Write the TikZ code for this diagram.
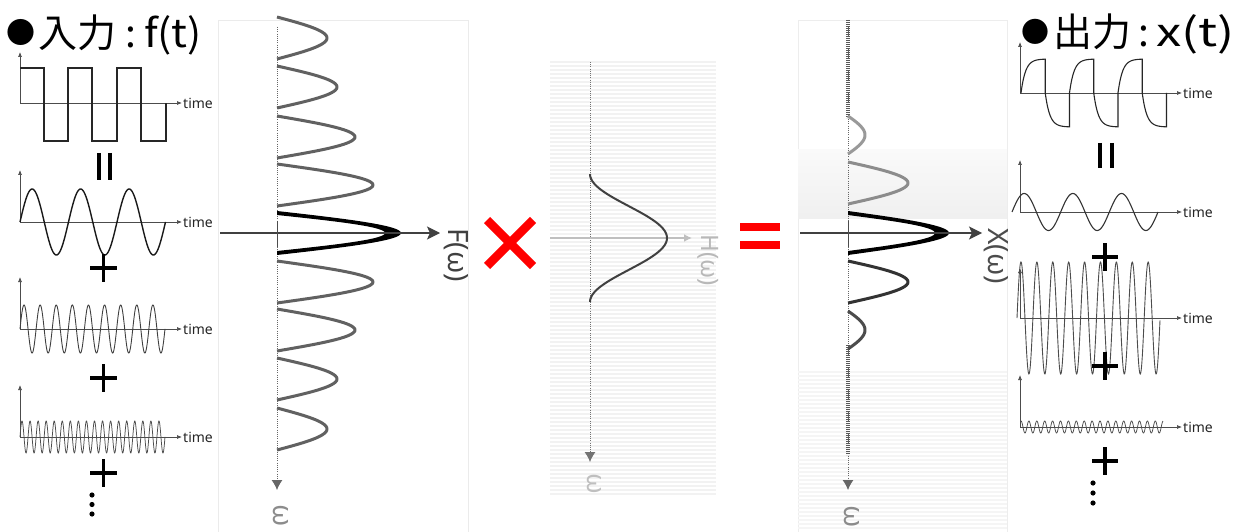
\documentclass[tikz,border=0pt]{standalone}
\usepackage{fontspec}
\usepackage{graphicx}
\setmainfont{Noto Sans}
\newfontfamily\jp{Noto Sans CJK JP}
\usetikzlibrary{arrows.meta}
\begin{document}
\begin{tikzpicture}[x=1pt,y=-1pt,
  ax/.style={black!70,line width=0.7pt,-{Latex[length=5pt,width=4pt]}},
  timelbl/.style={anchor=west,inner sep=1pt,text=black!85,font=\fontsize{14}{14}\selectfont},
  title/.style={anchor=base west,inner sep=0pt,font=\jp\fontsize{39}{39}\selectfont},
  sym/.style={black,line width=3.4pt},
  lobe/.style={black!62,line width=3pt},
  dotax/.style={black!60,line width=0.9pt,dash pattern=on 1pt off 1.2pt,-{Latex[length=10pt,width=11pt]}},
  spec/.style={rotate=-90,inner sep=0pt,font=\fontsize{28}{28}\selectfont},
  redsym/.style={red,line width=8.5pt}]
\useasboundingbox (0,0) rectangle (1240,532);
\fill[white] (0,0) rectangle (1240,532);

% ---------- faint panel backgrounds ----------
\draw[black!8,line width=0.8pt] (218,532) -- (218,20) -- (468,20) -- (468,532);
\foreach \y in {62,66,...,496} \draw[black!5,line width=1.3pt] (550,\y) -- (716,\y);
\draw[black!7,line width=0.8pt] (798,532) -- (798,20) -- (1007,20) -- (1007,532);
\shade[top color=black!2,bottom color=black!6] (798,150) rectangle (1007,218);
\foreach \y in {372,376,...,530} \draw[black!4,line width=1.3pt] (798,\y) -- (1007,\y);

% ---------- titles ----------
\node[title] (tin) at (6,48) {\raisebox{4pt}{\fontsize{29}{29}\selectfont ●}\hspace{3pt}入力\hspace{9pt}:\hspace{8pt}\scalebox{1.08}[1]{f(t)}};
\node[title] (tout) at (1021,47) {\raisebox{4pt}{\fontsize{28}{28}\selectfont ●}\hspace{4pt}出力\hspace{7pt}:\hspace{7pt}\scalebox{1.3}[1]{x(t)}};

% ---------- time axes ----------
\foreach \x/\a/\t/\n in {20/103/52/1,20/222/170/2,20/329/277/3,20/437/385/4,
                          1020/93/42/5,1020/212/160/6,1020/318/268/7,1020/427/375/8}{
  \coordinate (o\n) at (\x,\a);
  \coordinate (h\n) at (\x+162,\a);
  \coordinate (v\n) at (\x,\t);
  \draw[ax] (o\n) -- (h\n);
  \draw[ax] (o\n) -- (v\n);
  \node[timelbl] (tl\n) at (h\n) {time};
}

% ---------- input waves ----------
\draw[black!85,line width=1.2pt] (20,68) -- (44,68) -- (44,141) -- (68,141) -- (68,68) -- (92,68)
  -- (92,141) -- (117,141) -- (117,68) -- (141,68) -- (141,141) -- (166,141) -- (166,103);
\draw[black!90,line width=1.4pt] plot[domain=0:145.5,samples=200,variable=\t] ({20+\t},{222-33*sin(\t/48.5*360)});
\draw[black!75,line width=0.9pt] plot[domain=0:145,samples=400,variable=\t] ({20+\t},{329-24*sin(\t/16.11*360)});
\draw[black!70,line width=0.75pt] plot[domain=0:145,samples=600,variable=\t] ({20+\t},{437-16*sin(\t/8.055*360)});

% ---------- output waves ----------
\foreach \k in {0,...,5}{
  \pgfmathsetmacro\xs{1021+24.25*\k}
  \pgfmathsetmacro\sg{ifthenelse(mod(\k,2)==0,1,-1)}
  \draw[black!85,line width=1.1pt] plot[domain=0:24.25,samples=40,variable=\t] ({\xs+\t},{93-\sg*34*(1-exp(-\t/4.5))}) -- ({\xs+24.25},93);
}
\draw[black!80,line width=1.1pt] plot[domain=0:146,samples=200,variable=\t] ({1012+\t},{212-18.5*sin(\t/48.67*360)});
\draw[black!70,line width=0.9pt] plot[domain=0:143,samples=400,variable=\t] ({1017+\t},{318-56*sin(\t/15.9*360)});
\draw[black!70,line width=0.75pt] plot[domain=0:142,samples=600,variable=\t] ({1021+\t},{427-6*cos(\t/7.9*360)});

% ---------- symbols between input waves ----------
\draw[sym] (99,153) -- (99,180) (110,153) -- (110,180);
\foreach \y in {268,378,473}{\draw[sym] (90,\y) -- (117,\y) (103.5,\y-14) -- (103.5,\y+14);}
\foreach \y in {495,504.5,514}{\fill (92,\y) circle (2.6);}
\draw[sym] (1100,143) -- (1100,168) (1112,143) -- (1112,168);
\foreach \y in {257,366,461}{\draw[sym] (1092,\y) -- (1118,\y) (1105,\y-14) -- (1105,\y+14);}
\foreach \y in {483,493,503}{\fill (1093,\y) circle (2.6);}

% ---------- F(omega) ----------
\draw[dotax] (277,27) -- (277,490);
\foreach \c/\h in {38/50,87/60,137/78,185/96,282/96,330/78,379/60,429/50}{
  \draw[lobe] plot[domain=0:1,samples=40,variable=\t] ({277+\h*sin(180*\t)},{\c-21+42*\t});
}
\fill[black] plot[domain=0:1,samples=50,variable=\t] ({277+124*sin(180*\t)},{211+44*\t})
  -- plot[domain=1:0,samples=50,variable=\t] ({277+108*sin(180*\t)},{215+36*\t}) -- cycle;
\draw[black!75,line width=1.3pt,-{Stealth[length=13pt,width=13pt,inset=3pt]}] (220,233) -- (440,233);
\draw[black!70,line width=1pt] (277,221) -- (277,247);
\node[spec,text=black!75] (Fl) at (456,255) {F(ω)};
\node[spec,text=black!45] (Fw) at (281,516) {ω};

% ---------- multiply ----------
\draw[redsym] (487,220) -- (533,266) (487,266) -- (533,220);

% ---------- H(omega) ----------
\draw[dotax,black!55] (590,62) -- (590,462);
\draw[black!25,line width=1.6pt,-{Latex[length=8pt,width=8pt]}] (550,238) -- (692,238);
\draw[black!75,line width=2pt] plot[domain=-64:64,samples=80,variable=\t] ({590+77*0.5*(1+cos(180*\t/64))},{238+\t});
\node[spec,text=black!28,font=\fontsize{24}{24}\selectfont] (Hl) at (708,260) {H(ω)};
\node[spec,text=black!25,font=\fontsize{26}{26}\selectfont] (Hw) at (594,484) {ω};

% ---------- equals ----------
\draw[red,line width=8pt] (740,226.5) -- (780,226.5) (740,245) -- (780,245);

% ---------- X(omega) ----------
\draw[dotax] (848,20) -- (848,490);
\draw[black!65,line width=3.4pt,dash pattern=on 1.2pt off 0.8pt] (848,20) -- (848,118) (848,345) -- (848,455);
\draw[lobe,black!40] plot[domain=0:1,samples=30,variable=\t] ({848+17*sin(180*\t)},{135-19+38*\t});
\draw[lobe,black!45] plot[domain=0:1,samples=40,variable=\t] ({848+60*sin(180*\t)},{183-21+42*\t});
\draw[lobe,black!80] plot[domain=0:1,samples=40,variable=\t] ({848+60*sin(180*\t)},{282-21+42*\t});
\draw[lobe,black!70] plot[domain=0:1,samples=30,variable=\t] ({848+17*sin(180*\t)},{330-19+38*\t});
\fill[black] plot[domain=0:1,samples=50,variable=\t] ({848+101*sin(180*\t)},{211+44*\t})
  -- plot[domain=1:0,samples=50,variable=\t] ({848+87*sin(180*\t)},{215+36*\t}) -- cycle;
\draw[black!75,line width=1.3pt,-{Stealth[length=13pt,width=13pt,inset=3pt]}] (800,233) -- (982,233);
\draw[black!70,line width=1pt] (848,221) -- (848,247);
\node[spec,text=black!70] (Xl) at (996,256) {X(ω)};
\node[spec,text=black!45] (Xw) at (852,517) {ω};
\end{tikzpicture}
\end{document}
